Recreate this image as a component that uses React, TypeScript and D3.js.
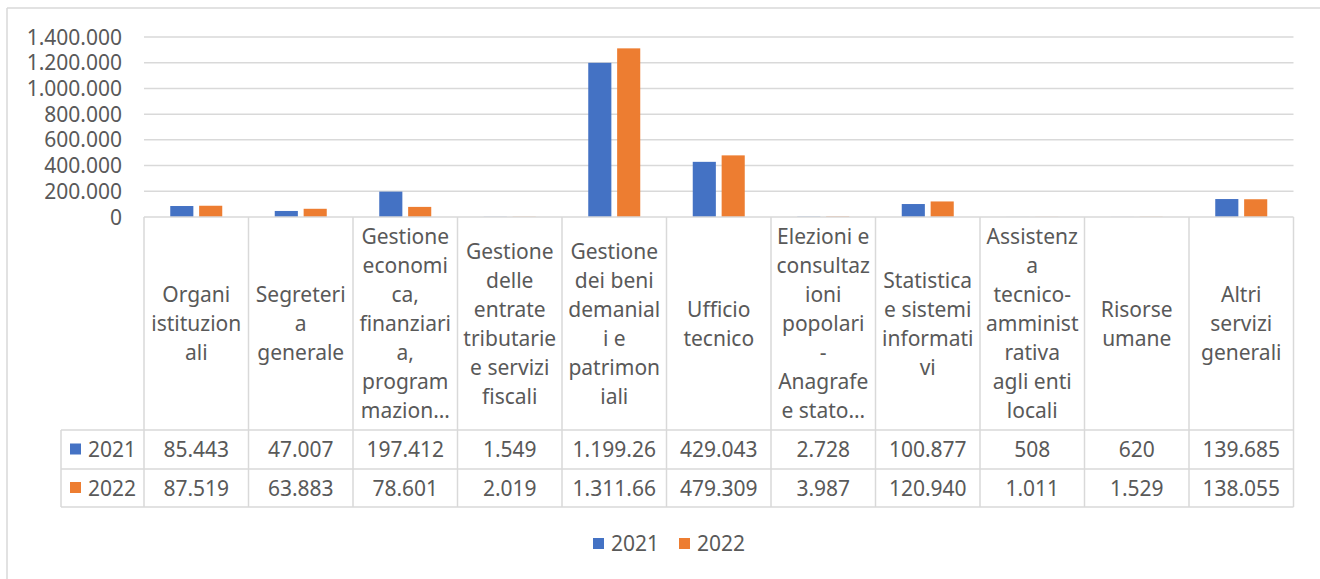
import React from "react";
import * as d3 from "d3";

// ---- data ----
const categories: string[] = [
  "Organi\nistituzion\nali",
  "Segreteri\na\ngenerale",
  "Gestione\neconomi\nca,\nfinanziari\na,\nprogram\nmazion…",
  "Gestione\ndelle\nentrate\ntributarie\ne servizi\nfiscali",
  "Gestione\ndei beni\ndemanial\ni e\npatrimon\niali",
  "Ufficio\ntecnico",
  "Elezioni e\nconsultaz\nioni\npopolari\n-\nAnagrafe\ne stato…",
  "Statistica\ne sistemi\ninformati\nvi",
  "Assistenz\na\ntecnico-\namminist\nrativa\nagli enti\nlocali",
  "Risorse\numane",
  "Altri\nservizi\ngenerali",
];
const seriesNames: string[] = ["2021", "2022"];
const values2021: number[] = [85443, 47007, 197412, 1549, 1199260, 429043, 2728, 100877, 508, 620, 139685];
const values2022: number[] = [87519, 63883, 78601, 2019, 1311660, 479309, 3987, 120940, 1011, 1529, 138055];
const yTicks: number[] = [0, 200000, 400000, 600000, 800000, 1000000, 1200000, 1400000];
const colors: string[] = ["#4472C4", "#ED7D31"];

const seriesValues = [values2021, values2022];

const itLocale = d3.formatLocale({ thousands: ".", decimal: ",", grouping: [3], currency: ["€", ""] });
const fmt = itLocale.format(",.0f");
// Excel clips cell text to the cell width
const cellText = (v: number) => {
  const s = fmt(v);
  return s.length > 8 ? s.slice(0, 8) : s;
};

const W = 1320;
const H = 579;
const plotLeft = 144;
const plotRight = 1293.5;
const yTop = 37;
const yZero = 217;
const headerBottom = 430;
const row1Bottom = 469;
const row2Bottom = 507;
const tableLeft = 61;
const FONT = "'Noto Sans', 'Open Sans', sans-serif";
const TEXT = "#595959";
const GRID = "#D9D9D9";
const FS = 21;

export default function App() {
  const x = d3.scaleBand<number>().domain(d3.range(categories.length)).range([plotLeft, plotRight]).paddingInner(0).paddingOuter(0);
  const x1 = d3.scaleBand<string>().domain(seriesNames).range([-26, 26]).paddingInner(0.2);
  const y = d3.scaleLinear().domain([0, 1400000]).range([yZero, yTop]);
  const bw = x.bandwidth();
  const headerMid = (yZero + headerBottom) / 2;
  const lineH = 29;
  const rowBounds = [[headerBottom, row1Bottom], [row1Bottom, row2Bottom]];

  return (
    <div style={{ position: "absolute", left: 0, top: 0 }}>
      <svg width={W} height={H} style={{ display: "block", fontFamily: FONT }}>
        <rect x={0} y={0} width={W} height={H} fill="#fff" />
        {/* chart border */}
        <line x1={7} x2={W} y1={8} y2={8} stroke={GRID} strokeWidth={1.5} />
        <line x1={7} x2={7} y1={8} y2={H} stroke={GRID} strokeWidth={1.5} />

        {/* gridlines */}
        {yTicks.map((t) => (
          <g key={t}>
            {t > 0 && <line x1={plotLeft} x2={plotRight} y1={y(t)} y2={y(t)} stroke={GRID} strokeWidth={1.5} />}
            <text x={122} y={y(t)} dy="0.36em" textAnchor="end" fontSize={FS} fill={TEXT}>
              {fmt(t)}
            </text>
          </g>
        ))}

        {/* bars */}
        {categories.map((_, i) => (
          <g key={i}>
            {seriesNames.map((s, j) => {
              const v = seriesValues[j][i];
              const cx = (x(i) as number) + bw / 2;
              return (
                <rect
                  key={s}
                  x={cx + (x1(s) as number)}
                  y={y(v)}
                  width={x1.bandwidth()}
                  height={yZero - y(v)}
                  fill={colors[j]}
                />
              );
            })}
          </g>
        ))}

        {/* data table */}
        <g stroke={GRID} strokeWidth={1.5} fill="none">
          <line x1={plotLeft} x2={plotRight} y1={yZero} y2={yZero} />
          <line x1={tableLeft} x2={plotRight} y1={headerBottom} y2={headerBottom} />
          <line x1={tableLeft} x2={plotRight} y1={row1Bottom} y2={row1Bottom} />
          <line x1={tableLeft} x2={plotRight} y1={row2Bottom} y2={row2Bottom} />
          <line x1={tableLeft} x2={tableLeft} y1={headerBottom} y2={row2Bottom} />
          {d3.range(categories.length + 1).map((k) => {
            const xx = k < categories.length ? (x(k) as number) : plotRight;
            return <line key={k} x1={xx} x2={xx} y1={yZero} y2={row2Bottom} />;
          })}
        </g>

        {/* category labels */}
        {categories.map((c, i) => {
          const lines = c.split("\n");
          const cx = (x(i) as number) + bw / 2;
          const y0 = headerMid - ((lines.length - 1) * lineH) / 2;
          return (
            <text key={i} textAnchor="middle" fontSize={FS} fill={TEXT}>
              {lines.map((l, k) => (
                <tspan key={k} x={cx} y={y0 + k * lineH} dy="0.36em">
                  {l}
                </tspan>
              ))}
            </text>
          );
        })}

        {/* series rows */}
        {seriesNames.map((s, j) => {
          const [r0, r1] = rowBounds[j];
          const my = (r0 + r1) / 2;
          return (
            <g key={s}>
              <rect x={70} y={my - 6} width={11} height={11} fill={colors[j]} />
              <text x={88} y={my} dy="0.36em" fontSize={FS} fill={TEXT}>
                {s}
              </text>
              {seriesValues[j].map((v, i) => (
                <text key={i} x={(x(i) as number) + bw / 2} y={my} dy="0.36em" textAnchor="middle" fontSize={FS} fill={TEXT}>
                  {cellText(v)}
                </text>
              ))}
            </g>
          );
        })}

        {/* legend */}
        {seriesNames.map((s, j) => {
          const lx = 593 + j * 86;
          return (
            <g key={s}>
              <rect x={lx} y={538} width={11} height={11} fill={colors[j]} />
              <text x={lx + 18} y={543} dy="0.36em" fontSize={FS} fill={TEXT}>
                {s}
              </text>
            </g>
          );
        })}
      </svg>
    </div>
  );
}
